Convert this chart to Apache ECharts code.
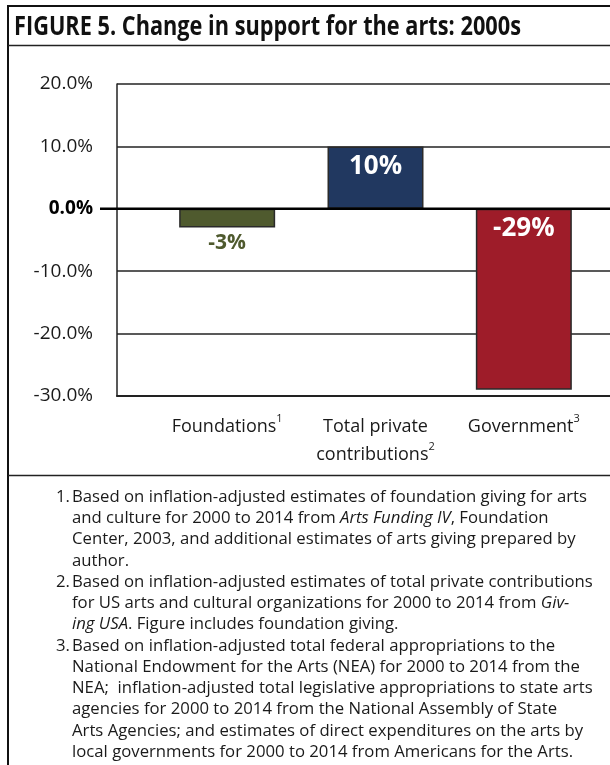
<!DOCTYPE html>
<html>
<head>
<meta charset="utf-8">
<script src="https://cdn.jsdelivr.net/npm/echarts@6/dist/echarts.min.js"></script>
<style>
  html, body { margin: 0; padding: 0; background: #fff; }
  #chart { width: 610px; height: 765px; }
</style>
</head>
<body>
<div id="chart"></div>
<script>
// Categories, their footnote markers and the change in support (percent)
const categories = ['Foundations', 'Total private\ncontributions', 'Government'];
const noteMarks = ['1', '2', '3'];
const changes = [-3, 10, -29];
const barColors = ['#4f5a2e', '#213860', '#9e1c29'];

// Value axis range and step (percent)
const axisMin = -30;
const axisMax = 20;
const axisStep = 10;

const titleText = 'FIGURE 5. Change in support for the arts: 2000s';

// Source notes, one entry per printed line; {i|...} marks italic titles
const notes = [
  { num: '1.', lines: [
    'Based on inflation-adjusted estimates of foundation giving for arts',
    'and culture for 2000 to 2014 from {i|Arts Funding IV}, Foundation',
    'Center, 2003, and additional estimates of arts giving prepared by',
    'author.'
  ]},
  { num: '2.', lines: [
    'Based on inflation-adjusted estimates of total private contributions',
    'for US arts and cultural organizations for 2000 to 2014 from {i|Giv-}',
    '{i|ing USA}. Figure includes foundation giving.'
  ]},
  { num: '3.', lines: [
    'Based on inflation-adjusted total federal appropriations to the',
    'National Endowment for the Arts (NEA) for 2000 to 2014 from the',
    'NEA;  inflation-adjusted total legislative appropriations to state arts',
    'agencies for 2000 to 2014 from the National Assembly of State',
    'Arts Agencies; and estimates of direct expenditures on the arts by',
    'local governments for 2000 to 2014 from Americans for the Arts.'
  ]}
];

const FONT = '"Open Sans", "Noto Sans", sans-serif';
const INK = '#1a1a1a';

// Horizontal squeeze so the wide fallback face fills the same measure
function squeezeFor(text, font, targetWidth) {
  const ctx = document.createElement('canvas').getContext('2d');
  ctx.font = font;
  return Math.min(1, targetWidth / ctx.measureText(text).width);
}

const titleScale = squeezeFor(titleText, 'bold 26px "Open Sans"', 507);
const noteSize = 17;
const noteScale = squeezeFor(notes[0].lines[0], noteSize + 'px "Open Sans"', 515);

// Footnote text elements
const noteElements = [];
const noteTop = 497;
const noteStep = 21.25;
let row = 0;
notes.forEach(n => {
  noteElements.push({
    type: 'text', x: 56, y: noteTop + row * noteStep, scaleX: noteScale,
    style: { text: n.num, font: noteSize + 'px ' + FONT, fill: INK, verticalAlign: 'middle' }
  });
  n.lines.forEach(line => {
    noteElements.push({
      type: 'text', x: 72, y: noteTop + row * noteStep, scaleX: noteScale,
      style: {
        text: line, fontSize: noteSize, fontFamily: FONT, fill: INK, verticalAlign: 'middle',
        rich: { i: { fontStyle: 'italic', fontSize: noteSize, fontFamily: FONT, fill: INK } }
      }
    });
    row++;
  });
});

const chart = echarts.init(document.getElementById('chart'), null, { renderer: 'canvas' });

const frameLines = [
  { type: 'line', shape: { x1: 8, y1: 6, x2: 610, y2: 6 }, style: { stroke: '#111', lineWidth: 2 } },
  { type: 'line', shape: { x1: 8, y1: 5, x2: 8, y2: 765 }, style: { stroke: '#111', lineWidth: 2 } },
  { type: 'line', shape: { x1: 8, y1: 45.5, x2: 610, y2: 45.5 }, style: { stroke: '#222', lineWidth: 1.6 } },
  { type: 'line', shape: { x1: 8, y1: 475.5, x2: 610, y2: 475.5 }, style: { stroke: '#222', lineWidth: 1.6 } },
  {
    type: 'text', x: 14, y: 28, scaleX: titleScale,
    style: { text: titleText, font: 'bold 26px ' + FONT, fill: '#111', verticalAlign: 'middle' }
  }
];

chart.setOption({
  animation: false,
  grid: [
    { left: 117, right: 0, top: 84, bottom: 369 },
    { left: 153, right: 12, top: 84, bottom: 369 }
  ],
  xAxis: [
    {
      gridIndex: 0, type: 'category', data: categories,
      axisLine: { show: true, onZero: false, lineStyle: { color: '#222', width: 2 } },
      axisTick: { show: false }, axisLabel: { show: false }, splitLine: { show: false }
    },
    {
      gridIndex: 1, type: 'category', data: categories,
      axisLine: { show: false }, axisTick: { show: false },
      axisLabel: {
        interval: 0, hideOverlap: false,
        margin: 17, fontSize: 18, fontFamily: FONT, color: INK, lineHeight: 28,
        formatter: (v, i) => v + '{s|' + noteMarks[i] + '}',
        rich: { s: { fontSize: 11, fontFamily: FONT, color: INK, verticalAlign: 'top', lineHeight: 14 } }
      }
    }
  ],
  yAxis: [
    {
      gridIndex: 0, type: 'value', min: axisMin, max: axisMax, interval: axisStep,
      axisLine: { show: true, lineStyle: { color: '#222', width: 1.5 } },
      axisTick: { show: false },
      splitLine: { show: true, lineStyle: { color: '#222', width: 1.5 } },
      axisLabel: {
        margin: 24, fontSize: 19, fontFamily: FONT, color: INK,
        formatter: v => v === 0 ? '{z|0.0%}' : v.toFixed(1) + '%',
        rich: { z: { fontSize: 19, fontFamily: FONT, fontWeight: 'bold', color: '#000' } }
      }
    },
    { gridIndex: 1, type: 'value', min: axisMin, max: axisMax, interval: axisStep, show: false }
  ],
  series: [{
    type: 'bar', xAxisIndex: 1, yAxisIndex: 1, barWidth: 96,
    data: changes.map((v, i) => {
      const small = Math.abs(v) < 5;
      return {
        value: v,
        itemStyle: { color: barColors[i], borderColor: '#2a2a2a', borderWidth: 1.5 },
        label: small
          ? { show: true, position: 'bottom', distance: 5, color: barColors[i], fontSize: 21 }
          : { show: true, position: 'insideTop', distance: 7, color: '#fff', fontSize: 26 }
      };
    }),
    label: {
      fontFamily: FONT, fontWeight: 'bold',
      formatter: p => p.value + '%'
    }
  }],
  graphic: frameLines.concat(noteElements)
});

// Heavy zero baseline, reaching a little past the value axis
const zeroY = chart.convertToPixel({ yAxisIndex: 0 }, 0);
chart.setOption({
  graphic: frameLines.concat(noteElements).concat([{
    type: 'line', z: 10,
    shape: { x1: 100, y1: zeroY, x2: 610, y2: zeroY },
    style: { stroke: '#000', lineWidth: 2.6 }
  }])
});
</script>
</body>
</html>
